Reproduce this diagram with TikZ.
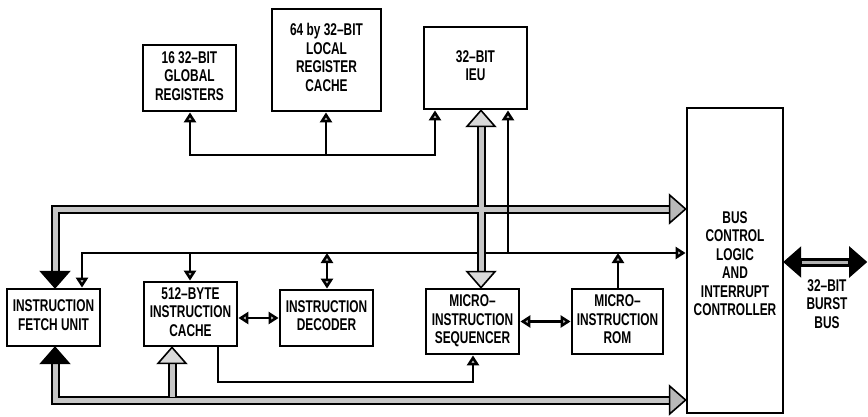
\documentclass[tikz,border=0pt]{standalone}
\usepackage{fontspec}
\setmainfont{Liberation Sans}
\usepackage{graphicx}
\usetikzlibrary{arrows.meta,calc}
\newcommand{\lbl}[1]{\scalebox{0.70}[1]{\begin{tabular}{@{}c@{}}#1\end{tabular}}}
\begin{document}
\begin{tikzpicture}[x=1pt,y=-1pt,
  font=\fontsize{17}{18.5}\selectfont\bfseries,
  box/.style={draw, line width=2.8pt, inner sep=0pt, anchor=center},
  thinline/.style={line width=2.6pt},
  sh/.style={-{Triangle[fill=gray!55,length=10pt,width=12pt]}},
  dbl/.style={{Triangle[fill=gray!55,length=10pt,width=12pt]}-{Triangle[fill=gray!55,length=10pt,width=12pt]}},
  busout/.style={line width=9pt, draw=black, line join=miter},
  busin/.style={line width=5pt, draw=gray!45, line join=miter},
  pics/bh/.style={code={\filldraw[line width=1.6pt, fill=#1, line join=miter] (0,0) -- (-16,-14) -- (-16,14) -- cycle;}}
]
\useasboundingbox (0,0) rectangle (868,416);

% boxes
\node[box, minimum width=93pt, minimum height=66pt] (glob) at (189.5,78) {\lbl{16 32–BIT\\GLOBAL\\REGISTERS}};
\node[box, minimum width=109pt, minimum height=102pt] (loc) at (326.5,60) {\lbl{64 by 32–BIT\\LOCAL\\REGISTER\\CACHE}};
\node[box, minimum width=103pt, minimum height=82pt] (ieu) at (475.5,68) {\lbl{32–BIT\\IEU}};
\node[box, minimum width=96pt, minimum height=305pt] (bcl) at (735,260.5) {};
\node (bcltxt) at (735,266) {\lbl{BUS\\CONTROL\\LOGIC\\AND\\INTERRUPT\\CONTROLLER}};
\node[box, minimum width=93pt, minimum height=57pt] (fetch) at (53.5,317.5) {\lbl{INSTRUCTION\\FETCH UNIT}};
\node[box, minimum width=93pt, minimum height=64pt] (cache) at (190.5,314) {\lbl{512–BYTE\\INSTRUCTION\\CACHE}};
\node[box, minimum width=93pt, minimum height=56pt] (dec) at (326.5,318) {\lbl{INSTRUCTION\\DECODER}};
\node[box, minimum width=93pt, minimum height=65pt] (seq) at (472.5,321.5) {\lbl{MICRO–\\INSTRUCTION\\SEQUENCER}};
\node[box, minimum width=91pt, minimum height=65pt] (rom) at (617.5,321.5) {\lbl{MICRO–\\INSTRUCTION\\ROM}};
\node (burst) at (827,306) {\lbl{32–BIT\\BURST\\BUS}};

% coordinates
\coordinate (tL) at (82,253);
\coordinate (iT) at (508,253);
\coordinate (rL) at (190,155);
\coordinate (rM) at (326,155);
\coordinate (rR) at (435,155);
\coordinate (dT) at (327,253);
\coordinate (cT) at (190,253);
\coordinate (mT) at (618,253);
\coordinate (cs) at (218,382);
\coordinate (cs2) at (473,382);
\coordinate (tb) at (55,209);
\coordinate (tbF) at (tb |- fetch.north);
\coordinate (tbB) at (tb -| bcl.west);
\coordinate (bb) at (55,400);
\coordinate (bbF) at (bb |- fetch.south);
\coordinate (bbC) at (172,400);
\coordinate (bbCt) at (bbC |- cache.south);
\coordinate (bbB) at (bb -| bcl.west);
\coordinate (iv) at (481,200);
\coordinate (ivT) at (iv |- ieu.south);
\coordinate (ivB) at (iv |- seq.north);
\coordinate (bsL) at (bcl.east |- 0,262);
\coordinate (bsR) at (866,262);

% thin connections
\draw[thinline, dbl] (rR |- ieu.south) -- (rR) -- (rL) -- (rL |- glob.south);
\draw[thinline, sh] (rM) -- (rM |- loc.south);
\draw[thinline, dbl] (tL |- fetch.north) -- (tL) -- (tL -| bcl.west);
\draw[thinline, sh] (cT) -- (cT |- cache.north);
\draw[thinline, dbl] (dT) -- (dT |- dec.north);
\draw[thinline, sh] (mT |- rom.north) -- (mT);
\draw[thinline, dbl] (dec.west -| cache.east) -- (dec.west);
\draw[thinline, dbl] (seq.east) -- (rom.west);
\draw[thinline, sh] (cs |- cache.south) -- (cs) -- (cs2) -- (cs2 |- seq.south);

% thick buses: outlines
\draw[busout] ($(tbF)+(0,-16)$) -- (tb) -- ($(tbB)+(-16,0)$);
\draw[busout] ($(bbF)+(0,16)$) -- (bb) -- ($(bbB)+(-16,0)$);
\draw[busout] ($(bbCt)+(0,16)$) -- (bbC);
\draw[busout] ($(ivT)+(0,16)$) -- ($(ivB)+(0,-16)$);
% fills
\draw[busin] ($(tbF)+(0,-16)$) -- (tb) -- ($(tbB)+(-16,0)$);
\draw[busin] ($(bbF)+(0,16)$) -- (bb) -- ($(bbB)+(-16,0)$);
\draw[busin] ($(bbCt)+(0,16)$) -- (bbC |- 0,397);
\draw[busin] ($(ivT)+(0,16)$) -- ($(ivB)+(0,-16)$);

% thin line to IEU crossing top bus
\draw[thinline, sh] (iT) -- (iT |- ieu.south);

% burst bus
\draw[line width=9pt] ($(bsL)+(16,0)$) -- ($(bsR)+(-16,0)$);
\draw[line width=3pt, draw=gray!60] ($(bsL)+(18,0)$) -- ($(bsR)+(-18,0)$);

% big heads
\pic[rotate=-90] at (tbF) {bh=black};
\pic[rotate=90] at (bbF) {bh=black};
\pic[rotate=90] at (bbCt) {bh=gray!30};
\pic at (tbB) {bh=gray!55};
\pic at (bbB) {bh=gray!55};
\pic[rotate=90] at (ivT) {bh=gray!30};
\pic[rotate=-90] at (ivB) {bh=gray!30};
\pic[rotate=180] at (bsL) {bh=black};
\pic at (bsR) {bh=black};
\end{tikzpicture}
\end{document}
